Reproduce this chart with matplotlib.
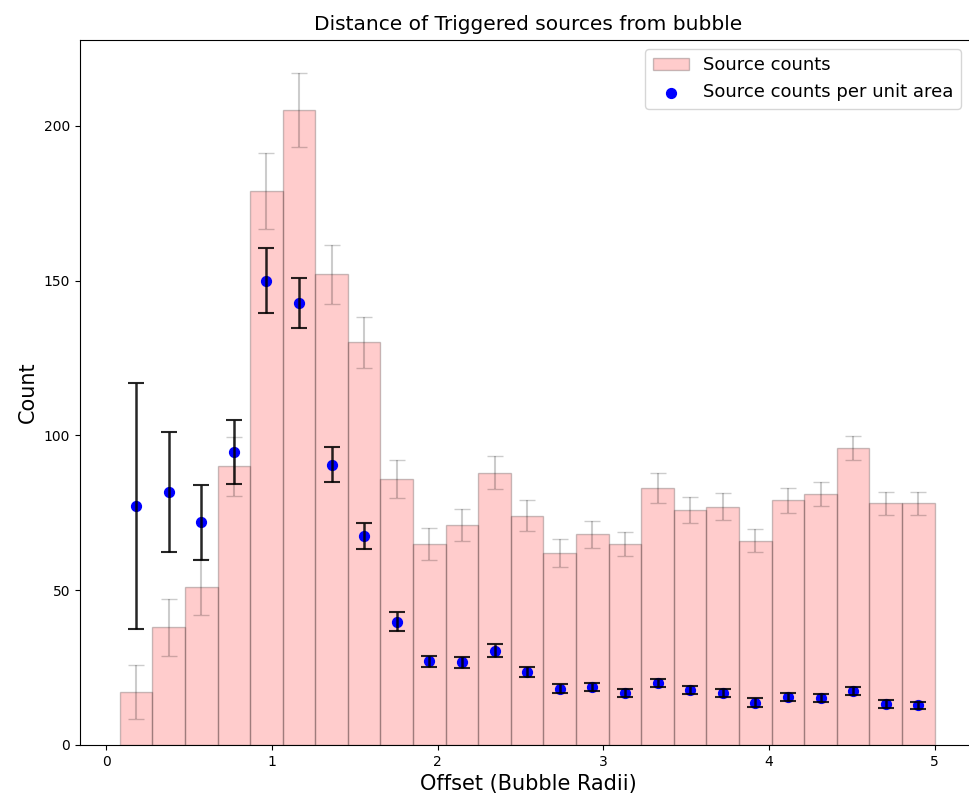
import numpy as np
import matplotlib.pyplot as plt

# histogram of source offsets (in bubble radii), 25 bins
offset_lo, offset_hi = 0.08, 5.0
counts = [17, 38, 51, 90, 179, 205, 152, 130, 86, 65, 71, 88, 74,
          62, 68, 65, 83, 76, 77, 66, 79, 81, 96, 78, 78]
count_err = [8.7, 9.1, 9.0, 9.6, 12.3, 11.9, 9.6, 8.3, 6.2, 5.2, 5.2, 5.4, 5.0,
             4.5, 4.5, 3.9, 4.7, 4.2, 4.3, 3.7, 4.0, 3.8, 3.9, 3.7, 3.7]

# counts normalised by annulus area
density = [77.2, 81.7, 71.9, 94.7, 150.0, 142.8, 90.5, 67.5, 39.8, 27.0, 26.7, 30.5, 23.6,
           18.2, 18.7, 16.7, 20.1, 17.8, 16.7, 13.7, 15.6, 15.3, 17.3, 13.2, 12.8]
density_err = [39.7, 19.5, 12.2, 10.3, 10.4, 8.1, 5.7, 4.2, 3.0, 1.9, 1.8, 2.0, 1.6,
               1.4, 1.35, 1.35, 1.25, 1.4, 1.35, 1.35, 1.3, 1.3, 1.3, 1.2, 1.2]

edges = np.linspace(offset_lo, offset_hi, len(counts) + 1)
centers = 0.5 * (edges[:-1] + edges[1:])
width = edges[1] - edges[0]

fig = plt.figure(figsize=(9.69, 8.01), dpi=100)
ax = fig.add_axes([80 / 969, 56 / 801, 896 / 969, 705 / 801])

bars = ax.bar(centers, counts, width=width, color=(1, 0, 0, 0.2),
              edgecolor=(0, 0, 0, 0.22), linewidth=1, label='Source counts')
ax.errorbar(centers, counts, yerr=count_err, fmt='none', ecolor='k',
            alpha=0.2, capsize=5.5, elinewidth=1.5)

pts = ax.scatter(centers, density, color='blue', s=50, zorder=3,
                 label='Source counts per unit area')
ax.errorbar(centers, density, yerr=density_err, fmt='none', ecolor='k',
            alpha=0.85, capsize=5.5, elinewidth=1.8, capthick=1.5, zorder=4)

ax.set_xlim(-0.16, 5.25)
ax.set_ylim(0, 227.7)
ax.set_xticks(range(6))
ax.set_yticks(range(0, 201, 50))
ax.tick_params(labelsize=10)

ax.set_title('Distance of Triggered sources from bubble', fontsize=14.5, pad=7)
ax.set_xlabel('Offset (Bubble Radii)', fontsize=15)
ax.set_ylabel('Count', fontsize=15)
ax.legend(handles=[bars, pts], loc='upper right', fontsize=13,
          bbox_to_anchor=(0.993, 1.0))

fig.savefig('out.png', dpi=100)
